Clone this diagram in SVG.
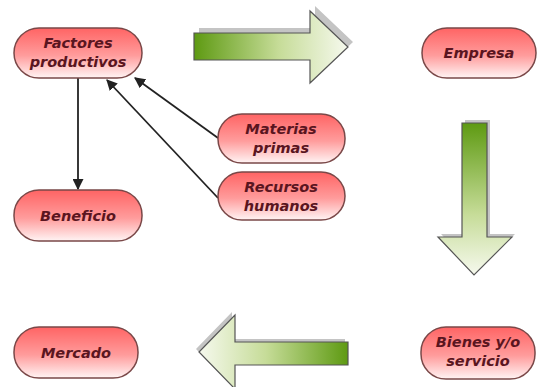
<svg xmlns="http://www.w3.org/2000/svg" width="538" height="387" viewBox="0 0 538 387">
<defs>
<linearGradient id="pill" x1="0" y1="0" x2="0" y2="1">
<stop offset="0" stop-color="#ff6464"/>
<stop offset="0.55" stop-color="#ff9c9c"/>
<stop offset="1" stop-color="#fff4f4"/>
</linearGradient>
<linearGradient id="gR" x1="0" y1="0" x2="1" y2="0">
<stop offset="0" stop-color="#5e9a12"/>
<stop offset="0.55" stop-color="#c6dc98"/>
<stop offset="1" stop-color="#f6f9ee"/>
</linearGradient>
<linearGradient id="gD" x1="0" y1="0" x2="0" y2="1">
<stop offset="0" stop-color="#5e9a12"/>
<stop offset="0.6" stop-color="#c6dc98"/>
<stop offset="1" stop-color="#f6f9ee"/>
</linearGradient>
<linearGradient id="gL" x1="1" y1="0" x2="0" y2="0">
<stop offset="0" stop-color="#5e9a12"/>
<stop offset="0.55" stop-color="#c6dc98"/>
<stop offset="1" stop-color="#f6f9ee"/>
</linearGradient>
<marker id="ah" viewBox="0 0 10 10" refX="9" refY="5" markerWidth="11" markerHeight="11" markerUnits="userSpaceOnUse" orient="auto">
<path d="M0,0 L10,5 L0,10 Z" fill="#222"/>
</marker>
</defs>
<style>
.pill{fill:url(#pill);stroke:#7a4848;stroke-width:1.5}
.t{font-family:"DejaVu Sans",sans-serif;font-weight:bold;font-style:italic;font-size:14.5px;fill:#5a1520;text-anchor:middle}
.con{stroke:#222;stroke-width:1.8;fill:none;marker-end:url(#ah)}
.shadow{fill:#c4c4c4}
.big{stroke:#555;stroke-width:1.2}
</style>
<rect width="538" height="387" fill="#ffffff"/>

<g id="arrow-right">
<path class="shadow" d="M199,28 L315,28 L315,6 L353,42 L315,78 L315,55 L199,55 Z"/>
<path class="big" fill="url(#gR)" d="M194,33 L310,33 L310,11 L348,47 L310,83 L310,60 L194,60 Z"/>
</g>
<g id="arrow-down">
<path class="shadow" d="M465,120 L490,120 L490,234 L515,234 L477,272 L441,234 L465,234 Z"/>
<path class="big" fill="url(#gD)" d="M462,123 L487,123 L487,237 L512,237 L474,275 L438,237 L462,237 Z"/>
</g>
<g id="arrow-left">
<path class="shadow" d="M345,339 L232,339 L232,312 L196,349 L232,386 L232,362 L345,362 Z"/>
<path class="big" fill="url(#gL)" d="M348,342 L235,342 L235,315 L199,352 L235,389 L235,365 L348,365 Z"/>
</g>

<g id="connectors">
<line class="con" x1="78" y1="78" x2="78" y2="189"/>
<line class="con" x1="218" y1="138" x2="135" y2="78"/>
<line class="con" x1="218" y1="198" x2="107" y2="80"/>
</g>

<g id="factores">
<rect class="pill" x="14" y="28" width="128" height="50" rx="25"/>
<text class="t" x="78" y="48">Factores</text>
<text class="t" x="78" y="67">productivos</text>
</g>
<g id="empresa">
<rect class="pill" x="422" y="28" width="114" height="50" rx="25"/>
<text class="t" x="479" y="58">Empresa</text>
</g>
<g id="materias">
<rect class="pill" x="218" y="114" width="127" height="49" rx="24"/>
<text class="t" x="281" y="134">Materias</text>
<text class="t" x="281" y="153">primas</text>
</g>
<g id="recursos">
<rect class="pill" x="218" y="172" width="127" height="48" rx="24"/>
<text class="t" x="281" y="192">Recursos</text>
<text class="t" x="281" y="211">humanos</text>
</g>
<g id="beneficio">
<rect class="pill" x="14" y="190" width="128" height="51" rx="25"/>
<text class="t" x="78" y="221">Beneficio</text>
</g>
<g id="mercado">
<rect class="pill" x="14" y="327" width="124" height="51" rx="25"/>
<text class="t" x="76" y="358">Mercado</text>
</g>
<g id="bienes">
<rect class="pill" x="421" y="327" width="114" height="52" rx="25"/>
<text class="t" x="478" y="347">Bienes y/o</text>
<text class="t" x="478" y="366">servicio</text>
</g>
</svg>
